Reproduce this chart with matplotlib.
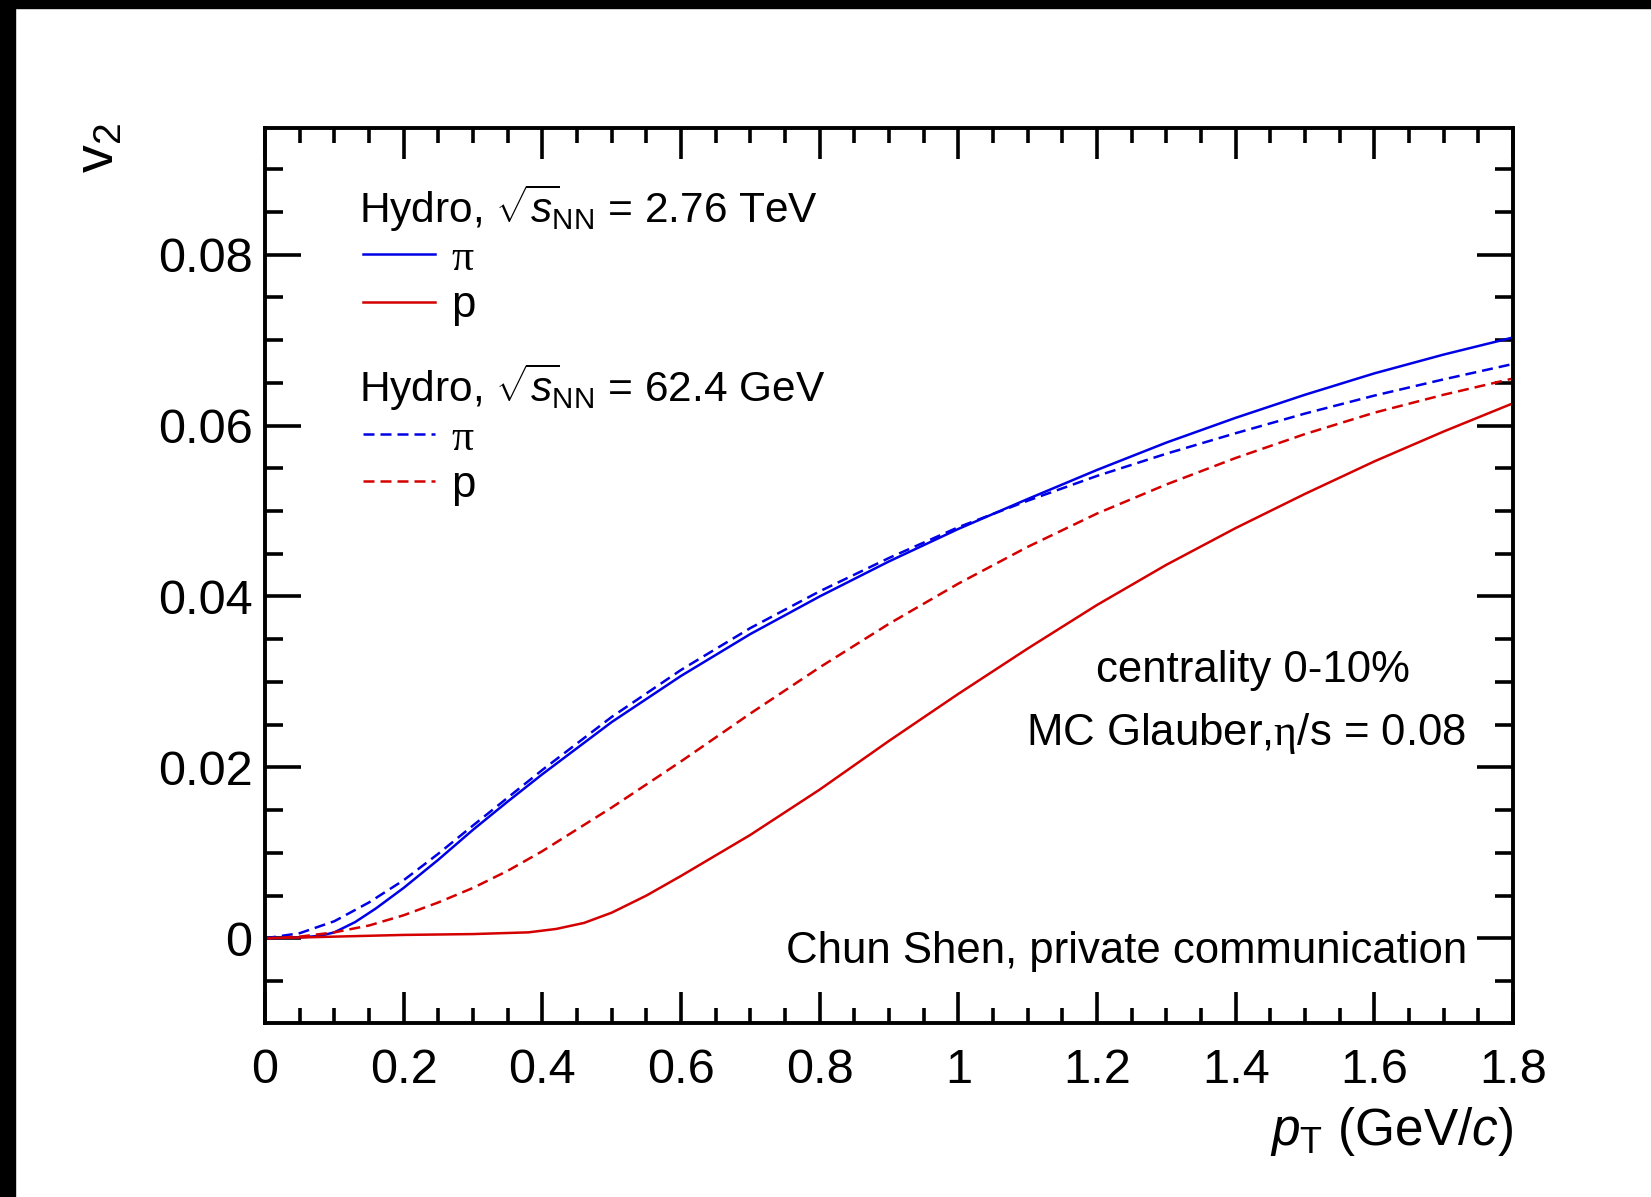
import matplotlib
matplotlib.use("Agg")
import matplotlib.pyplot as plt
from matplotlib.lines import Line2D
from matplotlib.patches import Rectangle
from matplotlib.ticker import FixedLocator, MultipleLocator

plt.rcParams["font.family"] = ["Liberation Sans", "DejaVu Sans"]
plt.rcParams["mathtext.fontset"] = "custom"
plt.rcParams["mathtext.rm"] = "Liberation Sans"
plt.rcParams["mathtext.it"] = "Liberation Sans:italic"
plt.rcParams["mathtext.bf"] = "Liberation Sans:bold"
plt.rcParams["mathtext.sf"] = "Liberation Serif"

# pion, 2.76 TeV (solid blue)
pt_pi_lhc = [0, 0.05, 0.08, 0.1, 0.13, 0.16, 0.2, 0.25, 0.3, 0.35, 0.4, 0.5, 0.6,
             0.7, 0.8, 0.9, 1.0, 1.1, 1.2, 1.3, 1.4, 1.5, 1.6, 1.7, 1.8]
v2_pi_lhc = [0, 0.0001, 0.0003, 0.0007, 0.0019, 0.0035, 0.0059, 0.0092, 0.0127,
             0.0160, 0.0192, 0.0253, 0.0307, 0.0356, 0.0400, 0.0441, 0.0479,
             0.0514, 0.0548, 0.0580, 0.0609, 0.0636, 0.0661, 0.0683, 0.0703]

# proton, 2.76 TeV (solid red)
pt_p_lhc = [0, 0.1, 0.2, 0.3, 0.38, 0.42, 0.46, 0.5, 0.55, 0.6, 0.65, 0.7, 0.8,
            0.9, 1.0, 1.1, 1.2, 1.3, 1.4, 1.5, 1.6, 1.7, 1.8]
v2_p_lhc = [0, 0.0002, 0.0004, 0.0005, 0.0007, 0.0011, 0.0018, 0.0030, 0.0050,
            0.0073, 0.0097, 0.0121, 0.0174, 0.0231, 0.0286, 0.0339, 0.0390,
            0.0437, 0.0480, 0.0520, 0.0558, 0.0593, 0.0626]

# pion, 62.4 GeV (dashed blue)
pt_pi_rhic = [0, 0.05, 0.1, 0.15, 0.2, 0.25, 0.3, 0.4, 0.5, 0.6, 0.7, 0.8, 0.9,
              1.0, 1.1, 1.2, 1.3, 1.4, 1.5, 1.6, 1.7, 1.8]
v2_pi_rhic = [0, 0.0006, 0.0020, 0.0042, 0.0068, 0.0099, 0.0132, 0.0197, 0.0259,
              0.0314, 0.0363, 0.0406, 0.0445, 0.0481, 0.0512, 0.0541, 0.0567,
              0.0591, 0.0614, 0.0635, 0.0654, 0.0672]

# proton, 62.4 GeV (dashed red)
pt_p_rhic = [0, 0.05, 0.1, 0.15, 0.2, 0.25, 0.3, 0.35, 0.4, 0.5, 0.6, 0.7, 0.8,
             0.9, 1.0, 1.1, 1.2, 1.3, 1.4, 1.5, 1.6, 1.7, 1.8]
v2_p_rhic = [0, 0.0002, 0.0007, 0.0015, 0.0027, 0.0042, 0.0059, 0.0079, 0.0102,
             0.0153, 0.0207, 0.0263, 0.0317, 0.0368, 0.0415, 0.0458, 0.0497,
             0.0531, 0.0562, 0.0590, 0.0615, 0.0636, 0.0655]

x_ticks = [0, 0.2, 0.4, 0.6, 0.8, 1.0, 1.2, 1.4, 1.6, 1.8]
x_tick_labels = ["0", "0.2", "0.4", "0.6", "0.8", "1", "1.2", "1.4", "1.6", "1.8"]
y_ticks = [0, 0.02, 0.04, 0.06, 0.08]
y_tick_labels = ["0", "0.02", "0.04", "0.06", "0.08"]

headers = [r"Hydro, $\sqrt{s}\!{}_{\mathrm{NN}}$ = 2.76 TeV",
           r"Hydro, $\sqrt{s}\!{}_{\mathrm{NN}}$ = 62.4 GeV"]
species = [r"$\mathsf{\pi}$", "p"]

BLUE = "#0000e6"
RED = "#d40000"
LW = 1.8
DASH = (0, (4.4, 2.4))

fig = plt.figure(figsize=(16.51, 11.97), dpi=100)
ax = fig.add_axes([0.1605, 0.1454, 0.7559, 0.7476])

ax.plot(pt_pi_lhc, v2_pi_lhc, color=BLUE, lw=LW)
ax.plot(pt_p_lhc, v2_p_lhc, color=RED, lw=LW)
ax.plot(pt_pi_rhic, v2_pi_rhic, color=BLUE, lw=LW, ls=DASH)
ax.plot(pt_p_rhic, v2_p_rhic, color=RED, lw=LW, ls=DASH)

ax.set_xlim(0, 1.8)
ax.set_ylim(-0.0099, 0.0948)

ax.xaxis.set_major_locator(FixedLocator(x_ticks))
ax.set_xticklabels(x_tick_labels)
ax.yaxis.set_major_locator(FixedLocator(y_ticks))
ax.set_yticklabels(y_tick_labels)
ax.xaxis.set_minor_locator(MultipleLocator(0.05))
ax.yaxis.set_minor_locator(MultipleLocator(0.005))

for s in ax.spines.values():
    s.set_linewidth(2.8)
ax.tick_params(which="both", direction="in", top=True, right=True, width=2.6)
ax.tick_params(axis="x", which="major", length=22, pad=18, labelsize=35)
ax.tick_params(axis="x", which="minor", length=11)
ax.tick_params(axis="y", which="major", length=26, pad=9, labelsize=35)
ax.tick_params(axis="y", which="minor", length=13)

ax.set_xlabel(r"$p_{\mathrm{T}}$ (GeV/$c$)", fontsize=37, loc="right")
ax.xaxis.set_label_coords(1.0, -0.092)
ax.set_ylabel(r"v$_2$", fontsize=40, loc="top")
ax.yaxis.set_label_coords(-0.112, 1.006)

# two legend blocks, one per collision energy, each under its own header
leg_kw = dict(frameon=False, fontsize=31.5, loc="upper left", borderpad=0,
              borderaxespad=0, handlelength=1.64, handletextpad=0.37,
              labelspacing=0.14)
h1 = [Line2D([], [], color=BLUE, lw=LW), Line2D([], [], color=RED, lw=LW)]
h2 = [Line2D([], [], color=BLUE, lw=LW, ls=DASH),
      Line2D([], [], color=RED, lw=LW, ls=DASH)]
leg1 = ax.legend(h1, species, bbox_to_anchor=(0.0785, 0.8775), **leg_kw)
ax.add_artist(leg1)
ax.legend(h2, species, bbox_to_anchor=(0.0785, 0.6764), **leg_kw)
ax.text(0.0753, 0.894, headers[0], transform=ax.transAxes, fontsize=30.5,
        ha="left", va="baseline")
ax.text(0.0753, 0.694, headers[1], transform=ax.transAxes, fontsize=30.5,
        ha="left", va="baseline")

ax.text(0.792, 0.394, "centrality 0-10%", transform=ax.transAxes,
        fontsize=31.5, ha="center", va="center")
ax.text(0.786, 0.323, r"MC Glauber,$\mathsf{\eta}$/s = 0.08", transform=ax.transAxes,
        fontsize=31.5, ha="center", va="center")
ax.text(0.963, 0.080, "Chun Shen, private communication", transform=ax.transAxes,
        fontsize=31.5, ha="right", va="center")

# black frame strips seen at the top and left edges of the original image
fig.add_artist(Rectangle((0, 1 - 8 / 1197), 1, 8 / 1197, transform=fig.transFigure,
                         color="black", zorder=10))
fig.add_artist(Rectangle((0, 0), 15 / 1651, 1, transform=fig.transFigure,
                         color="black", zorder=10))

fig.savefig("out.png", dpi=100)
